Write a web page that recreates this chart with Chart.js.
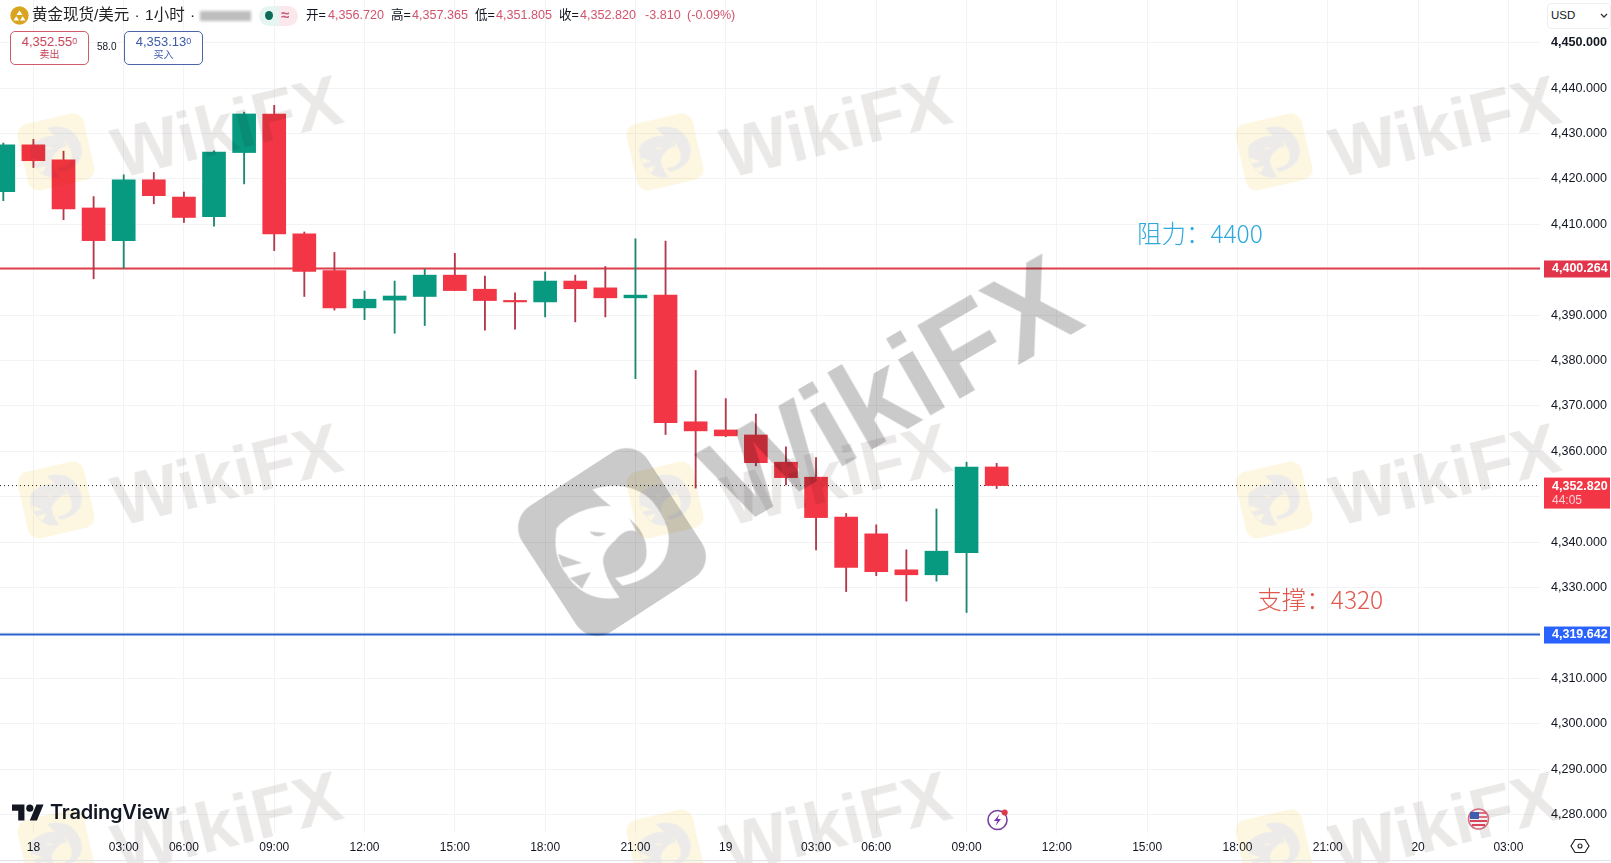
<!DOCTYPE html>
<html>
<head>
<meta charset="utf-8">
<title>黄金现货/美元</title>
<script src="https://cdn.jsdelivr.net/npm/chart.js@4"></script>
<style>
  html, body { margin: 0; padding: 0; background: #fff; overflow: hidden; }
  body { width: 1611px; height: 863px; position: relative; font-family: "Liberation Sans", "Noto Sans CJK SC", sans-serif; color: #131722; }
  canvas { position: absolute; left: 0; top: 0; }
  .t { position: absolute; white-space: nowrap; font-size: 12.6px; line-height: 16px; top: 7px; }
  .up { color: #d2546c; }
  .box { position: absolute; top: 31px; width: 77px; height: 32px; border: 1px solid; border-radius: 5px; text-align: center; background: #fff; }
  .box b { display: block; font-weight: normal; font-size: 13px; line-height: 15px; margin-top: 2px; }
  .box b sup { font-size: 9px; line-height: 0; vertical-align: 2px; }
  .box i { display: block; font-style: normal; font-size: 10px; line-height: 12px; }
  .wm { position: absolute; pointer-events: none; mix-blend-mode: multiply; }
  .wm-text { font-weight: bold; font-size: 70px; line-height: 70px; color: #ebe9e8; transform: translate(-50%, -50%) rotate(-14deg); }
  .wm-big { font-size: 122px; line-height: 122px; color: #cacaca; transform: translate(-50%, -50%) rotate(-30deg); }
  svg.wm-logo { width: 68px; height: 68px; transform: translate(-50%, -50%) rotate(-13deg); --bg: #fdf6e0; --fg: #ecebe9; }
  svg.wm-logo-big { width: 150px; height: 150px; transform: translate(-50%, -50%) rotate(-33deg); --bg: #cacaca; --fg: #fff; }
  #eagleShape .bg, .logo-bg { fill: var(--bg); }
  #eagleShape .fg { fill: var(--fg); }
</style>
</head>
<body>
<canvas id="chart" width="1611" height="863"></canvas>

<svg width="0" height="0" style="position:absolute">
  <defs>
    <g id="eagleShape">
      <path class="fg" d="M-37 -9 C-30 -18 -15 -24 -3 -24 C6 -24 13 -15 16 -7 C11 -9 6 -6 2 -1 C-3 3 -6 8 -6 13 C-5 22 0 30 5 37 C-12 40 -24 32 -30 22 C-37 14 -39 3 -37 -9Z"/>
      <path class="bg" d="M-15 -7 L-4 -6 C-8 -3 -12 -3 -15 -7Z M-36 8 L-20 14 L-33 17Z M-28 24 L-14 20 L-20 31Z"/>
      <path class="fg" d="M-13 -35 C5 -41 20 -35 27 -27 C36 -16 40 -5 37 5 C35 17 22 26 7 29 L2 24 C14 22 22 18 23 9 C24 -2 18 -12 9 -17 C2 -22 -6 -27 -13 -35Z"/>
    </g>
  </defs>
  <symbol id="eagle" viewBox="0 0 100 100">
    <rect class="logo-bg" width="100" height="100" rx="17"/>
    <use href="#eagleShape" transform="translate(50 50) rotate(13)"/>
  </symbol>
  <symbol id="eagleBig" viewBox="0 0 100 100">
    <rect class="logo-bg" width="100" height="100" rx="17"/>
    <use href="#eagleShape" transform="translate(50 50) rotate(33)"/>
  </symbol>
</svg>

<div id="marks"></div>

<!-- header -->
<svg style="position:absolute;left:10px;top:6px" width="19" height="19" viewBox="0 0 19 19">
  <circle cx="9.5" cy="9.5" r="9.2" fill="#d9a520"/>
  <path d="M6.5 9 L9.5 4.5 L12.5 9Z M3.5 14.5 L6.3 10.2 L9 14.5Z M10 14.5 L12.7 10.2 L15.5 14.5Z" fill="#fff"/>
</svg>
<span class="t" style="left:32px;font-size:15.5px;word-spacing:1px;color:#222">黄金现货/美元 · 1小时 ·</span>
<div style="position:absolute;left:200px;top:11px;width:51px;height:10px;background:#bdbdbd;filter:blur(1.5px)"></div>
<div style="position:absolute;left:259px;top:6px;width:20px;height:20px;background:#e6f5f2;border-radius:10px 0 0 10px"></div>
<div style="position:absolute;left:279px;top:6px;width:19px;height:20px;background:#fbe8ec;border-radius:0 10px 10px 0"></div>
<div style="position:absolute;left:265px;top:11px;width:8px;height:9px;background:#0e6b5a;border-radius:50%"></div>
<span class="t" style="left:281px;top:7px;font-size:15px;font-weight:bold;color:#c2607a">≈</span>
<span class="t" style="left:306px">开=</span><span class="t up" style="left:328px">4,356.720</span>
<span class="t" style="left:391px">高=</span><span class="t up" style="left:412px">4,357.365</span>
<span class="t" style="left:475px">低=</span><span class="t up" style="left:496px">4,351.805</span>
<span class="t" style="left:559px">收=</span><span class="t up" style="left:580px">4,352.820</span>
<span class="t up" style="left:645px">-3.810</span><span class="t up" style="left:687px">(-0.09%)</span>

<div class="box" style="left:10px;border-color:#cf5b6d;color:#c8465c"><b>4,352.55<sup>0</sup></b><i>卖出</i></div>
<span class="t" style="left:97px;top:39px;font-size:10px">58.0</span>
<div class="box" style="left:124px;border-color:#4a66a8;color:#3b5bab"><b>4,353.13<sup>0</sup></b><i>买入</i></div>

<div style="position:absolute;left:1547px;top:3px;width:62px;height:24px;border:1px solid #eeeff2;border-radius:4px;background:#fff">
  <span style="position:absolute;left:3px;top:4px;font-size:11.5px;line-height:15px">USD</span>
  <svg style="position:absolute;left:52px;top:9px" width="8" height="6"><path d="M1 1 L4 4 L7 1" stroke="#333" stroke-width="1.3" fill="none"/></svg>
</div>

<!-- TradingView logo -->
<svg style="position:absolute;left:12px;top:801px" width="32" height="25" viewBox="0 0 36 28"><path d="M14 22H7V11H0V4h14v18zM28 22h-8l7.5-18h8L28 22z" fill="#131722"/><circle cx="20" cy="8" r="4" fill="#131722"/></svg>
<span style="position:absolute;left:50px;top:798px;font-family:Inter,sans-serif;font-weight:600;font-size:20px;letter-spacing:-0.2px;line-height:28px;color:#131722">TradingView</span>

<!-- bottom markers -->
<svg style="position:absolute;left:0;top:0" width="1611" height="863">
  <circle cx="997.5" cy="820" r="9.5" fill="none" stroke="#7a3f9d" stroke-width="1.6"/>
  <path d="M999.5 814 L994 821 L997.5 821 L995.5 826 L1001 819 L997.5 819Z" fill="#7b2fb0"/>
  <circle cx="1004.7" cy="812.5" r="3" fill="#e0384b"/>
  <circle cx="1478.5" cy="819" r="10" fill="#f1f1f4" stroke="#d4707f" stroke-width="1.6"/>
  <rect x="1470" y="812" width="9" height="7" fill="#3f5fae"/>
  <path d="M1470 821 H1487 M1472 825 H1485" stroke="#d8455a" stroke-width="2"/>
  <path d="M1479 813 H1486 M1479 817 H1487" stroke="#d8455a" stroke-width="1.6"/>
  <path d="M1575 839.5 H1585 L1589 846 L1585 852.5 H1575 L1571 846Z" fill="none" stroke="#222" stroke-width="1.2"/>
  <circle cx="1580" cy="846" r="2" fill="none" stroke="#222" stroke-width="1.1"/>
  <path d="M0 860.5 H1611" stroke="#e3e4e8" stroke-width="1"/>
</svg>

<script>
// hourly candles
const opens  = [4417.2,4427.5,4424.2,4413.6,4406.4,4419.8,4416.0,4411.7,4425.8,4434.3,4407.9,4399.8,4391.6,4393.3,4394.1,4398.8,4395.7,4393.2,4392.9,4397.5,4396.0,4393.8,4394.4,4366.5,4364.7,4363.6,4357.6,4354.3,4345.5,4341.8,4333.9,4332.8,4337.7,4356.55];
const closes = [4427.5,4424.0,4413.4,4406.4,4419.8,4416.3,4411.5,4425.9,4434.3,4407.9,4399.6,4391.6,4393.5,4394.2,4398.8,4395.4,4393.2,4392.9,4397.5,4395.8,4393.8,4394.4,4366.3,4364.5,4363.4,4357.5,4354.2,4345.4,4334.4,4333.5,4332.8,4338.0,4356.5,4352.45];
const highs  = [4427.9,4428.7,4426.1,4416.1,4420.9,4421.4,4417.1,4426.2,4434.7,4436.2,4408.3,4403.8,4395.3,4397.5,4400.1,4403.6,4398.6,4394.9,4399.5,4398.8,4400.7,4406.8,4406.3,4377.8,4371.6,4368.2,4361.0,4358.6,4346.3,4343.8,4338.3,4347.3,4357.6,4357.365];
const lows   = [4415.2,4422.5,4411.0,4398.0,4400.3,4414.5,4410.4,4409.6,4418.9,4404.2,4394.1,4391.1,4389.0,4386.0,4387.7,4395.4,4386.7,4386.9,4389.6,4388.5,4389.6,4376.0,4363.7,4351.9,4363.2,4356.8,4352.6,4338.3,4329.1,4332.6,4327.0,4331.4,4324.5,4351.805];

const timeIndex  = [1,4,6,9,12,15,18,21,24,27,29,32,35,38,41,44,47,50];
const timeLabels = ['18','03:00','06:00','09:00','12:00','15:00','18:00','21:00','19','03:00','06:00','09:00','12:00','15:00','18:00','21:00','20','03:00'];

const resistance = 4400.264;
const support = 4319.642;
const lastPrice = 4352.45;

const tagPrices = [resistance, lastPrice, support];
const tagTexts  = ['4,400.264', '4,352.820', '4,319.642'];
const noteTexts = ['阻力：4400', '支撑：4320'];
const noteIndex = [39.75, 43.75];
const notePrices = [4407.9, 4327.3];

const RED = '#f23645', GREEN = '#089981';
const xMin = -0.11, xMax = 51.05, yMin = 4275.93, yMax = 4459.4;

const isUp = i => closes[i] >= opens[i];
const fmtPrice = v => v.toLocaleString('en-US', { minimumFractionDigits: 3, maximumFractionDigits: 3 });

// price tags on the axis + the two hand written notes
const overlay = {
  id: 'overlay',
  afterDraw(chart) {
    const { ctx, scales: { x, y } } = chart;
    ctx.save();
    const tagColors = ['#e2354b', RED, '#2962ff'];
    tagPrices.forEach((p, i) => {
      const py = y.getPixelForValue(p);
      const two = p === lastPrice;
      ctx.fillStyle = tagColors[i];
      ctx.fillRect(1544, py - 8, 66, two ? 31 : 17);
      ctx.fillStyle = '#fff';
      ctx.font = 'bold 12.5px "Liberation Sans"';
      ctx.textBaseline = 'middle';
      ctx.textAlign = 'left';
      ctx.fillText(tagTexts[i], 1552, py + 0.5);
      if (two) {
        ctx.fillStyle = '#ffd0d5';
        ctx.font = '12px "Liberation Sans"';
        ctx.fillText('44:05', 1552, py + 15);
      }
    });
    ctx.textAlign = 'center';
    ctx.textBaseline = 'middle';
    ctx.font = '300 24.5px "Noto Sans CJK SC"';
    const noteColors = ['#2fa9dc', '#e2574c'];
    noteTexts.forEach((t, i) => {
      ctx.fillStyle = noteColors[i];
      ctx.fillText(t, x.getPixelForValue(noteIndex[i]), y.getPixelForValue(notePrices[i]));
    });
    ctx.restore();
  }
};

const flatLine = (price, color, width, dash, order) => ({
  type: 'line',
  data: [{ x: xMin, y: price }, { x: xMax, y: price }],
  borderColor: color, borderWidth: width, borderDash: dash,
  pointRadius: 0, order
});

// keep the plot flush with the window edges, the axis labels may overflow
const noMargins = s => { s.paddingLeft = s.paddingRight = s.paddingTop = s.paddingBottom = 0; };

new Chart(document.getElementById('chart'), {
  data: {
    datasets: [
      flatLine(resistance, '#e0404c', 2, [], 3),
      flatLine(support, '#2a63c9', 2, [], 3),
      flatLine(lastPrice, '#222', 1, [1, 3], 3),
      {
        type: 'bar', order: 2, grouped: false, barThickness: 1.2,
        data: highs.map((h, i) => ({ x: i, y: [lows[i], h] })),
        backgroundColor: opens.map((o, i) => isUp(i) ? '#1d8772' : '#b23a4c')
      },
      {
        type: 'bar', order: 1, grouped: false, barThickness: 23, minBarLength: 1.5,
        data: opens.map((o, i) => ({ x: i, y: [Math.min(o, closes[i]), Math.max(o, closes[i])] })),
        backgroundColor: opens.map((o, i) => isUp(i) ? GREEN : RED)
      }
    ]
  },
  options: {
    responsive: false,
    animation: false,
    devicePixelRatio: 1,
    layout: { padding: 0 },
    plugins: { legend: { display: false }, tooltip: { enabled: false } },
    scales: {
      x: {
        type: 'linear', min: xMin, max: xMax, offset: false,
        afterBuildTicks: s => { s.ticks = timeIndex.map(value => ({ value })); },
        afterFit: s => { s.height = 30; noMargins(s); },
        grid: { color: '#f2f3f5', drawTicks: false, offset: false },
        border: { display: false },
        ticks: {
          autoSkip: false, maxRotation: 0, padding: 7, color: '#131722',
          font: { family: 'Liberation Sans', size: 12 },
          callback: v => timeLabels[timeIndex.indexOf(v)]
        }
      },
      y: {
        position: 'right', min: yMin, max: yMax,
        afterFit: s => { s.width = 71; noMargins(s); },
        grid: { color: '#f2f3f5', drawTicks: false },
        border: { display: false },
        ticks: {
          stepSize: 10, includeBounds: false, autoSkip: false, padding: 11, color: '#131722',
          font: c => ({ family: 'Liberation Sans', size: 12.6, weight: c.tick && c.tick.value === 4450 ? 'bold' : 'normal' }),
          callback: v => fmtPrice(v)
        }
      }
    }
  },
  plugins: [overlay]
});

// WikiFX stamps on top of everything
const stampCols = [-609, 0, 609];
const stampRows = [0, 348, 696];
const marks = document.getElementById('marks');
let html = '';
stampRows.forEach(dy => stampCols.forEach(dx => {
  html += `<div class="wm wm-text" style="left:${836 + dx}px;top:${127 + dy}px">WikiFX</div>`;
  html += `<svg class="wm wm-logo" style="left:${665 + dx}px;top:${152 + dy}px"><use href="#eagle"/></svg>`;
}));
html += `<div class="wm wm-text wm-big" style="left:891px;top:390px">WikiFX</div>`;
html += `<svg class="wm wm-logo-big" style="left:612px;top:542px"><use href="#eagleBig"/></svg>`;
marks.innerHTML = html;
</script>
</body>
</html>
